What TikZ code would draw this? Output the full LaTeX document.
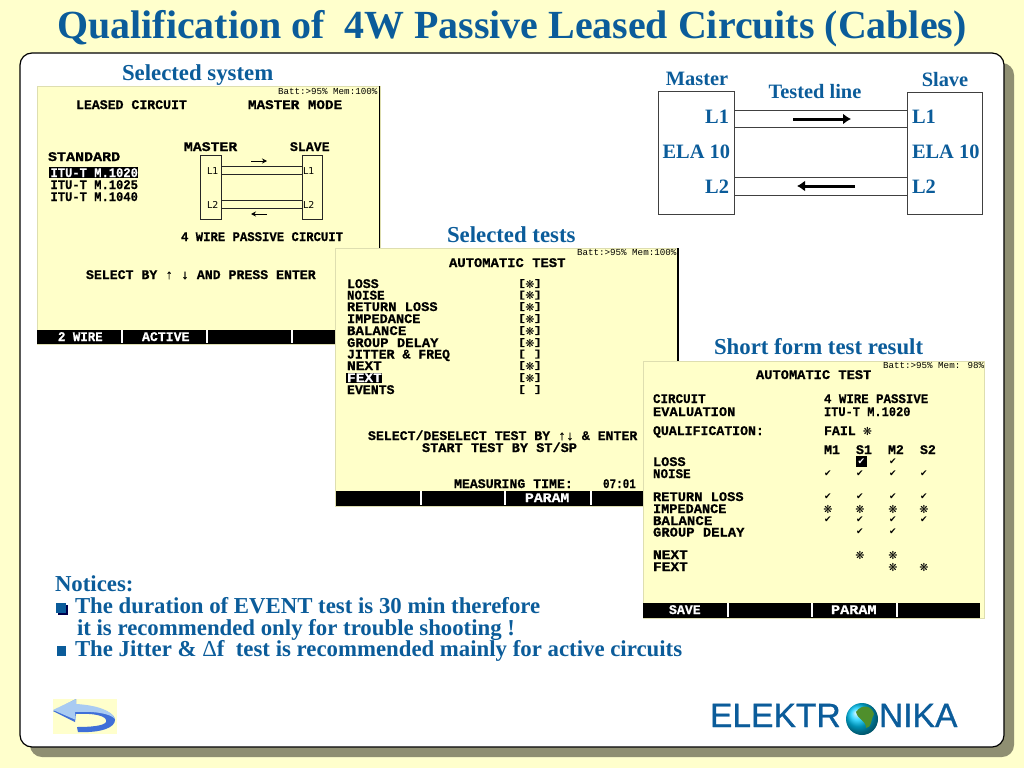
\documentclass[tikz,border=0pt]{standalone}
\usepackage{fontspec}
\usepackage{graphicx}
\usetikzlibrary{arrows.meta}
\setmainfont{Liberation Serif}
\newfontfamily\monof[BoldFeatures={FakeBold=0.7}]{Liberation Mono}
\newfontfamily\dejaf{DejaVu Sans}
\newfontfamily\arialf[FakeBold=0.9]{Liberation Sans}
\definecolor{pagebg}{HTML}{FFFFCC}
\definecolor{panelshadow}{HTML}{8F8F72}
\definecolor{inkblue}{HTML}{0B5C9A}
\definecolor{scrbg}{HTML}{FFFFC9}
\definecolor{scredge}{HTML}{DEDEB0}
\definecolor{arrowdark}{HTML}{3F6FD8}
\definecolor{arrowlight}{HTML}{A9CBF2}
\definecolor{landgreen}{HTML}{4F8F2C}
\newcommand{\fs}[1]{\fontsize{#1}{#1}\selectfont}
\newcommand{\stgl}{\makebox[0.6em]{\dejaf\fontsize{11}{11}\selectfont ❋}}
\newcommand{\brk}[1]{\raisebox{2pt}{\scalebox{1}[.72]{#1}}}
\newcommand{\T}[5][1]{\node[scrtxt] (#2) at (#3,#4) {\scalebox{#1}[1]{#5}};}
\newcommand{\W}[5][1]{\node[scrtxt,text=white] (#2) at (#3,#4) {\scalebox{#1}[1]{#5}};}
\newcommand{\K}[3]{\node[scrtxt] (#1) at (518,#2) {\brk{[}#3\brk{]}};}
\tikzset{
  x=1pt,y=-1pt,
  every node/.style={inner sep=0pt,outer sep=0pt},
  scrtxt/.style={anchor=base west,font=\monof\bfseries\fs{13.2},text=black},
  batt/.style={anchor=base west,font=\monof\fs{9.2},text=black},
  head/.style={anchor=base west,font=\bfseries\fs{22.8},text=inkblue},
  note/.style={anchor=base west,font=\bfseries\fs{22.8},text=inkblue},
  lab/.style={anchor=base,font=\bfseries\fs{20.4},text=inkblue},
  screen/.style={fill=scrbg,draw=scredge,line width=.8pt},
  sep/.style={draw=white,line width=1.2pt},
  thinbox/.style={draw=black!85,line width=.7pt,fill=none},
  whitebox/.style={draw=black!75,line width=.9pt,fill=white},
  chk/.style={font=\dejaf\fs{9},text=black,anchor=center},
  stg/.style={font=\dejaf\fs{11},text=black,anchor=center},
  smalltxt/.style={anchor=base west,font=\dejaf\fs{9.5},text=black},
}
\begin{document}
\begin{tikzpicture}
\useasboundingbox (0,0) rectangle (1024,768);
\fill[pagebg] (0,0) rectangle (1024,768);
% panel
\fill[panelshadow,rounded corners=12pt] (30,63) rectangle (1014,757);
\filldraw[fill=white,draw=black,line width=1.2pt,rounded corners=12pt] (20,53) rectangle (1004,747);
% title
\node[anchor=base,font=\bfseries\fs{39.9},text=inkblue] (title) at (512,39) {Qualification of\ \ 4W Passive Leased Circuits (Cables)};
% wiring diagram
\node[lab] (mlab) at (697,85) {Master};
\node[lab] (slab) at (945,86) {Slave};
\node[lab] (tlab) at (815,98) {Tested line};
\node[whitebox,minimum width=76pt,minimum height=123pt,anchor=north west] (mbox) at (658,91) {};
\node[whitebox,minimum width=75pt,minimum height=122pt,anchor=north west] (sbox) at (907,92) {};
\coordinate (ya) at (0,110); \coordinate (yb) at (0,127); \coordinate (yc) at (0,177); \coordinate (yd) at (0,195);
\draw[black!75,line width=.9pt] (mbox.east |- ya) -- (sbox.west |- ya);
\draw[black!75,line width=.9pt] (mbox.east |- yb) -- (sbox.west |- yb);
\draw[black!75,line width=.9pt] (mbox.east |- yc) -- (sbox.west |- yc);
\draw[black!75,line width=.9pt] (mbox.east |- yd) -- (sbox.west |- yd);
\coordinate (a1) at (793,119); \coordinate (a2) at (851,119); \coordinate (a3) at (855,186); \coordinate (a4) at (797,186);
\draw[-{Latex[length=8pt,width=11pt]},line width=3pt,black] (a1) -- (a2);
\draw[-{Latex[length=8pt,width=11pt]},line width=3pt,black] (a3) -- (a4);
\node[lab,anchor=base east] (ml1) at (729,123) {L1};
\node[lab,anchor=base east] (mela) at (730,158) {ELA 10};
\node[lab,anchor=base east] (ml2) at (729,193) {L2};
\node[lab,anchor=base west] (sl1) at (912,123) {L1};
\node[lab,anchor=base west] (sela) at (912,158) {ELA 10};
\node[lab,anchor=base west] (sl2) at (912,193) {L2};
% SCREEN 1
\node[head] (h1) at (122,80) {Selected system};
\filldraw[screen] (37,86) rectangle (380,344);
\draw[black,line width=1.2pt] (379.5,86) -- (379.5,344);
\node[batt] (s1b) at (278,94) {Batt:>95\% Mem:100\%};
\T{s1a}{76}{109}{LEASED CIRCUIT}
\T[1.08]{s1c}{248}{109}{MASTER MODE}
\T[1.12]{s1d}{184}{151}{MASTER}
\T{s1e}{290}{151}{SLAVE}
\T[1.14]{s1f}{48}{161}{STANDARD}
\fill[black] (49,167) rectangle (138,178);
\W[.92]{s1g}{50.5}{177}{ITU-T M.1020}
\T[.92]{s1h}{50.5}{189}{ITU-T M.1025}
\T[.92]{s1i}{50.5}{201}{ITU-T M.1040}
\node[thinbox,minimum width=21pt,minimum height=64pt,anchor=north west] (s1m) at (200,155) {};
\node[thinbox,minimum width=20pt,minimum height=64pt,anchor=north west] (s1s) at (302,155) {};
\coordinate (s1ya) at (0,166); \coordinate (s1yb) at (0,174); \coordinate (s1yc) at (0,200); \coordinate (s1yd) at (0,208);
\draw[black!85,line width=.7pt] (s1m.east |- s1ya) -- (s1s.west |- s1ya);
\draw[black!85,line width=.7pt] (s1m.east |- s1yb) -- (s1s.west |- s1yb);
\draw[black!85,line width=.7pt] (s1m.east |- s1yc) -- (s1s.west |- s1yc);
\draw[black!85,line width=.7pt] (s1m.east |- s1yd) -- (s1s.west |- s1yd);
\node[smalltxt] (s1l1) at (207,174) {L1};
\node[smalltxt] (s1l2) at (207,208) {L2};
\node[smalltxt] (s1r1) at (303,174) {L1};
\node[smalltxt] (s1r2) at (303,208) {L2};
\coordinate (s1a1) at (251,161); \coordinate (s1a2) at (267,161); \coordinate (s1a3) at (267,214); \coordinate (s1a4) at (251,214);
\draw[-{Stealth[length=5pt,width=5pt]},black,line width=.9pt] (s1a1) -- (s1a2);
\draw[-{Stealth[length=5pt,width=5pt]},black,line width=.9pt] (s1a3) -- (s1a4);
\T[.93]{s1j}{181}{241}{4 WIRE PASSIVE CIRCUIT}
\T{s1k}{86}{279}{SELECT BY ↑ ↓ AND PRESS ENTER}
\fill[black] (37,330) rectangle (379,344);
\draw[sep] (122,330) -- (122,343); \draw[sep] (207,330) -- (207,343); \draw[sep] (292,330) -- (292,343);
\W[.94]{s1n}{58}{341}{2 WIRE}
\W{s1o}{142}{341}{ACTIVE}
% SCREEN 2
\node[head] (h2) at (447,242) {Selected tests};
\filldraw[screen] (335,248) rectangle (678,506);
\draw[black,line width=1.2pt] (678,248) -- (678,506);
\node[batt] (s2b) at (577,255) {Batt:>95\% Mem:100\%};
\T[1.05]{s2a}{449}{267}{AUTOMATIC TEST}
\T{s2c}{347}{288}{LOSS}
\T[.95]{s2d}{347}{299.5}{NOISE}
\T[1.04]{s2e}{347}{311}{RETURN LOSS}
\T[1.03]{s2f}{347}{323}{IMPEDANCE}
\T[1.07]{s2g}{347}{335}{BALANCE}
\T[1.05]{s2h}{347}{347}{GROUP DELAY}
\T{s2i}{347}{358.5}{JITTER \& FREQ}
\T[1.1]{s2j}{347}{370}{NEXT}
\fill[black] (346,373) rectangle (382,383);
\W[1.1]{s2k}{347}{382}{FEXT}
\T{s2l}{347}{394}{EVENTS}
\K{s2m}{288}{\stgl}
\K{s2n}{299.5}{\stgl}
\K{s2o}{311}{\stgl}
\K{s2p}{323}{\stgl}
\K{s2q}{335}{\stgl}
\K{s2r}{347}{\stgl}
\K{s2s}{358.5}{ }
\K{s2t}{370}{\stgl}
\K{s2u}{382}{\stgl}
\K{s2v}{394}{ }
\T{s2w}{368}{440}{SELECT/DESELECT TEST BY ↑↓ \& ENTER}
\T[1.03]{s2x}{422}{452}{START TEST BY ST/SP}
\T{s2y}{454}{488}{MEASURING TIME:}
\T[.83]{s2z}{603}{488}{07:01}
\fill[black] (336,491) rectangle (678,506);
\draw[sep] (421,491) -- (421,505); \draw[sep] (505,491) -- (505,505); \draw[sep] (591,491) -- (591,505);
\W[1.12]{s2aa}{525}{502}{PARAM}
% SCREEN 3
\node[head] (h3) at (714,354) {Short form test result};
\filldraw[screen] (643,361) rectangle (984,618);
\node[batt] (s3b) at (883,368) {Batt:>95\% Mem: 98\%};
\T[1.04]{s3a}{756}{379}{AUTOMATIC TEST}
\T[.95]{s3c}{653}{403}{CIRCUIT}
\T[1.04]{s3d}{653}{416}{EVALUATION}
\T{s3e}{653}{435}{QUALIFICATION:}
\T[.94]{s3f}{824}{403}{4 WIRE PASSIVE}
\T[.91]{s3g}{824}{416}{ITU-T M.1020}
\T{s3h}{824}{435}{FAIL \stgl}
\T{s3i}{824}{454}{M1}
\T{s3j}{856}{454}{S1}
\T{s3k}{888}{454}{M2}
\T{s3l}{920}{454}{S2}
\T[1.03]{s3m}{653}{466}{LOSS}
\T[.95]{s3n}{653}{478}{NOISE}
\T[1.04]{s3o}{653}{501}{RETURN LOSS}
\T[1.03]{s3p}{653}{513}{IMPEDANCE}
\T[1.07]{s3q}{653}{525}{BALANCE}
\T[1.05]{s3r}{653}{536.5}{GROUP DELAY}
\T[1.1]{s3s}{653}{559}{NEXT}
\T[1.1]{s3t}{653}{571}{FEXT}
\fill[black] (856,456) rectangle (867,467);
\node[chk,text=white] (c1) at (861.5,461.5) {✔};
\node[chk] (c2) at (893,462) {✔};
\node[chk] (c3) at (828,474) {✔};
\node[chk] (c4) at (860,474) {✔};
\node[chk] (c5) at (893,474) {✔};
\node[chk] (c6) at (924,474) {✔};
\node[chk] (c7) at (828,497) {✔};
\node[chk] (c8) at (860,497) {✔};
\node[chk] (c9) at (893,497) {✔};
\node[chk] (c10) at (924,497) {✔};
\node[stg] (g1) at (828,509) {❋};
\node[stg] (g2) at (860,509) {❋};
\node[stg] (g3) at (893,509) {❋};
\node[stg] (g4) at (924,509) {❋};
\node[chk] (c11) at (828,520) {✔};
\node[chk] (c12) at (860,520) {✔};
\node[chk] (c13) at (893,520) {✔};
\node[chk] (c14) at (924,520) {✔};
\node[chk] (c15) at (860,532) {✔};
\node[chk] (c16) at (893,532) {✔};
\node[stg] (g5) at (860,555) {❋};
\node[stg] (g6) at (893,555) {❋};
\node[stg] (g7) at (893,567) {❋};
\node[stg] (g8) at (924,567) {❋};
\fill[black] (643,603) rectangle (980,618);
\draw[sep] (728,603) -- (728,617); \draw[sep] (812,603) -- (812,617); \draw[sep] (897,603) -- (897,617);
\W{s3u}{669}{614}{SAVE}
\W[1.15]{s3v}{831}{614}{PARAM}
% notices
\node[note] (n0) at (55,591) {Notices:};
\fill[black!70!blue] (58,605) rectangle (68,615);
\fill[inkblue] (56,603) rectangle (66,613);
\node[note] (n1) at (75,613) {The duration of EVENT test is 30 min therefore};
\node[note] (n2) at (77,635) {it is recommended only for trouble shooting !};
\fill[inkblue] (57,646) rectangle (66,656);
\node[note] (n3) at (75,656) {The Jitter \& {\mdseries Δ}f\ \ test is recommended mainly for active circuits};
% back arrow
\fill[pagebg] (53,699) rectangle (117,734);
\fill[arrowdark] (53,711) -- (75,722) -- (76,714) .. controls (95,713) and (108,716) .. (106,722) .. controls (104,726) and (90,727) .. (77,727) -- (78,732) .. controls (100,733) and (116,728) .. (115,719) .. controls (113,711) and (95,706) .. (76,705) -- (76,699) -- cycle;
\fill[arrowlight] (53,710) -- (76,720) -- (75,712) .. controls (92,711) and (110,713) .. (115,719) .. controls (112,710) and (95,705) .. (76,704) -- (76,699) -- cycle;
% logo
\node[anchor=base west,font=\arialf\fs{33.6},text=inkblue] (lg1) at (710,727) {ELEKTR};
\shade[ball color=cyan!80!blue] (862,719) circle (16);
\fill[landgreen] (856,712) .. controls (862,703) and (872,706) .. (874,714) .. controls (870,722) and (872,727) .. (866,728) .. controls (866,720) and (858,720) .. (856,712) -- cycle;
\node[anchor=base west,font=\arialf\fs{33.6},text=inkblue] (lg2) at (879,727) {NIKA};
\end{tikzpicture}
\end{document}
